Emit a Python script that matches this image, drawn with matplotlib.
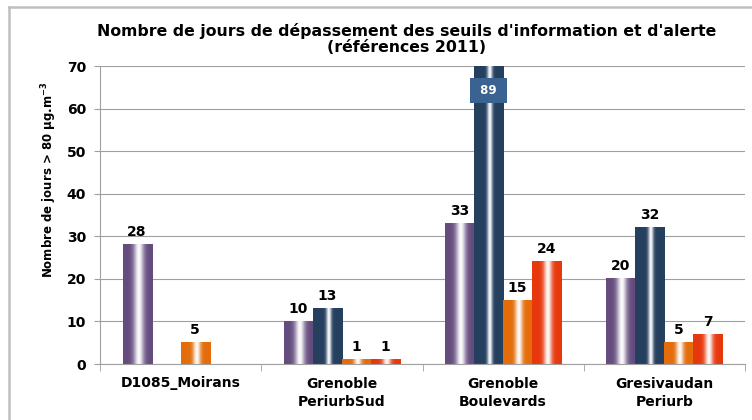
import numpy as np
import matplotlib
matplotlib.use("Agg")
import matplotlib.pyplot as plt
from matplotlib.lines import Line2D

# donnees
categories = ["D1085_Moirans", "Grenoble\nPeriurbSud", "Grenoble\nBoulevards", "Gresivaudan\nPeriurb"]
serie_violet = [28, 10, 33, 20]
serie_bleu = [np.nan, 13, 89, 32]
serie_orange = [5, 1, 15, 5]
serie_rouge = [np.nan, 1, 24, 7]
series = [serie_violet, serie_bleu, serie_orange, serie_rouge]
couleurs = ["#644C7E", "#253F5F", "#E46C0A", "#E7380D"]
largeurs_reflet = [0.17, 0.09, 0.13, 0.14]  # largeur du reflet blanc
y_max = 70
y_ticks = [0, 10, 20, 30, 40, 50, 60, 70]

fig = plt.figure(figsize=(7.52, 4.2), dpi=100)
ax = fig.add_axes([100 / 752, 1 - 364 / 420, 645 / 752, 298 / 420])

bw = 0.18
t = np.linspace(0, 1, 64)
for j, (vals, coul, sig) in enumerate(zip(series, couleurs, largeurs_reflet)):
    base = np.array(matplotlib.colors.to_rgb(coul))
    w = 0.97 * np.exp(-((t - 0.53) / sig) ** 2)
    img = base[None, :] * (1 - w[:, None]) + w[:, None]
    img = img[None, :, :]
    for i, v in enumerate(vals):
        if np.isnan(v):
            continue
        x0 = i + (j - 2) * bw
        ax.imshow(img, extent=[x0, x0 + bw, 0, v], aspect="auto",
                  interpolation="bilinear", zorder=2)
        xc = x0 + bw / 2
        if v > y_max:
            ax.text(xc, y_max - 5.8, " %d " % v, ha="center", va="center",
                    fontsize=8.5, fontweight="bold", color="white", zorder=4,
                    bbox=dict(boxstyle="square,pad=0.5", fc="#3A6391", ec="none"))
        else:
            ax.annotate("%d" % v, (xc, v), xytext=(0, 4), textcoords="offset points",
                        ha="center", va="bottom", fontsize=10, fontweight="bold",
                        color="black", zorder=4)

ax.set_xlim(-0.5, len(categories) - 0.5)
ax.set_ylim(0, y_max)
ax.set_yticks(y_ticks)
ax.set_yticklabels([str(v) for v in y_ticks], fontsize=10, fontweight="bold")
ax.set_xticks(range(len(categories)))
ax.set_xticklabels(categories, fontsize=10, fontweight="bold", linespacing=1.4)
ax.set_xticks(np.arange(len(categories) + 1) - 0.5, minor=True)
ax.tick_params(axis="x", which="major", length=0, pad=9)
ax.tick_params(axis="x", which="minor", length=5, color="#A0A0A0")
ax.tick_params(axis="y", length=4, color="#A0A0A0", pad=6)
ax.grid(axis="y", color="#A0A0A0", linewidth=0.8, zorder=0)
ax.set_axisbelow(True)
for s in ["top", "right"]:
    ax.spines[s].set_visible(False)
for s in ["left", "bottom"]:
    ax.spines[s].set_color("#A0A0A0")
    ax.spines[s].set_linewidth(0.8)

ax.set_ylabel("Nombre de jours > 80 µg.m$^{\\mathbf{-3}}$", fontsize=8.5, fontweight="bold")
ax.yaxis.set_label_coords(-41 / 645, (364 - 180) / 298)

fig.text(407 / 752, 1 - 39 / 420,
         "Nombre de jours de dépassement des seuils d'information et d'alerte\n(références 2011)",
         ha="center", va="center", fontsize=11.3, fontweight="bold", linespacing=1.12)

# cadre exterieur
fig.add_artist(Line2D([9 / 752, 9 / 752], [0, 1 - 7 / 420], transform=fig.transFigure,
                      color="#BFBFBF", linewidth=1.8))
fig.add_artist(Line2D([9 / 752, 1], [1 - 7 / 420, 1 - 7 / 420], transform=fig.transFigure,
                      color="#BFBFBF", linewidth=1.8))

fig.savefig("out.png", dpi=100)
